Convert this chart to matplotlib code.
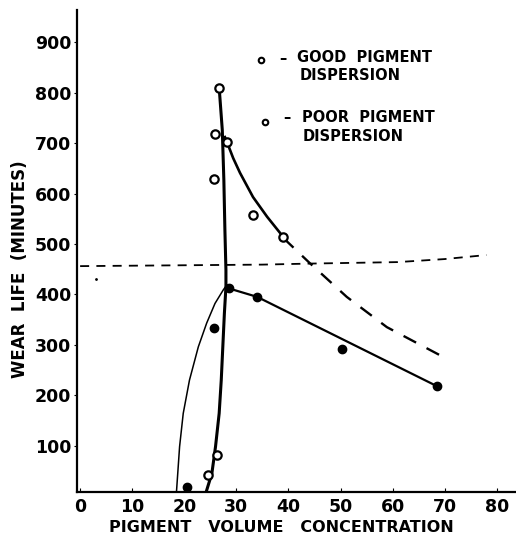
import matplotlib
matplotlib.use("Agg")
import matplotlib.pyplot as plt

# measured points (pigment volume concentration, wear life in minutes)
good_pvc = [20.5, 25.7, 28.5, 34.0, 50.3, 68.5]
good_life = [18, 333, 412, 394, 292, 218]
poor_pvc = [24.6, 26.3, 26.7, 25.9, 25.7, 28.2, 33.2, 39.0]
poor_life = [42, 81, 810, 718, 629, 702, 558, 514]

# hand-drawn curves
steep_pvc = [24.2, 25.3, 26.0, 26.7, 27.1, 27.4, 27.7, 28.0, 28.0, 27.8, 27.6, 27.3, 26.7]
steep_life = [8, 45, 98, 164, 230, 296, 362, 415, 448, 528, 627, 726, 810]
rise_pvc = [18.5, 19.1, 19.8, 21.0, 22.7, 24.3, 25.9, 27.5, 28.2]
rise_life = [8, 98, 164, 230, 296, 343, 382, 409, 419]
good_fit_pvc = [28.5, 34.0, 68.5]
good_fit_life = [412, 395, 218]
poor_fit_pvc = [27.8, 28.2, 29.4, 30.7, 33.2, 35.9, 39.0]
poor_fit_life = [712, 702, 670, 641, 593, 554, 514]
poor_ext_pvc = [39.0, 44.1, 51.2, 58.9, 69.7]
poor_ext_life = [512, 462, 395, 335, 276]
level_pvc = [0, 35, 44, 61, 70, 78]
level_life = [456, 459, 461, 464, 470, 478]

xticks = [0, 10, 20, 30, 40, 50, 60, 70, 80]
yticks = [100, 200, 300, 400, 500, 600, 700, 800, 900]

fig = plt.figure(figsize=(5.16, 5.49), dpi=100)
ax = fig.add_axes([77 / 516, 57 / 549, 439 / 516, 482 / 549])

ax.plot(steep_pvc, steep_life, color='black', lw=2.2)
ax.plot(rise_pvc, rise_life, color='black', lw=1.1)
ax.plot(good_fit_pvc, good_fit_life, color='black', lw=1.6)
ax.plot(poor_fit_pvc, poor_fit_life, color='black', lw=1.9)
ax.plot(poor_ext_pvc, poor_ext_life, color='black', lw=1.7, dashes=(6, 5))
ax.plot(level_pvc, level_life, color='black', lw=1.3, dashes=(5, 4))

ax.plot(good_pvc, good_life, 'o', color='black', ms=6)
ax.plot(poor_pvc, poor_life, 'o', mfc='white', mec='black', mew=1.6, ms=6)
ax.plot([3], [430], '.', color='black', ms=2)

# legend drawn by hand, as in the original figure
ax.plot([0.420], [0.896], 'o', mfc='white', mec='black', mew=1.5, ms=4,
        transform=ax.transAxes, clip_on=False)
ax.plot([0.428], [0.767], 'o', mfc='white', mec='black', mew=1.5, ms=4,
        transform=ax.transAxes, clip_on=False)
legend_font = dict(fontsize=10.5, fontweight='bold', family='DejaVu Sans',
                   transform=ax.transAxes, va='center')
ax.text(0.469, 0.900, '\u2013', ha='center', **legend_font)
ax.text(0.501, 0.902, 'GOOD  PIGMENT', **legend_font)
ax.text(0.508, 0.865, 'DISPERSION', **legend_font)
ax.text(0.478, 0.776, '\u2013', ha='center', **legend_font)
ax.text(0.5125, 0.778, 'POOR  PIGMENT', **legend_font)
ax.text(0.515, 0.737, 'DISPERSION', **legend_font)

ax.set_xlim(-0.6, 83.7)
ax.set_ylim(8, 964)
ax.set_xticks(xticks)
ax.set_yticks(yticks)
ax.spines['top'].set_visible(False)
ax.spines['right'].set_visible(False)
ax.spines['left'].set_linewidth(1.6)
ax.spines['bottom'].set_linewidth(1.6)
ax.tick_params(axis='x', direction='in', length=3, pad=4, labelsize=12.5)
ax.tick_params(axis='y', direction='out', length=2, pad=2, labelsize=12.5)
for lab in ax.get_xticklabels() + ax.get_yticklabels():
    lab.set_fontweight('bold')

fig.text(281 / 516, 1 - 528 / 549, 'PIGMENT   VOLUME   CONCENTRATION',
         fontsize=11.5, fontweight='bold', ha='center', va='center')
fig.text(20 / 516, 1 - 269 / 549, 'WEAR  LIFE  (MINUTES)', fontsize=12,
         fontweight='bold', ha='center', va='center', rotation=90)

fig.savefig('out.png', dpi=100)
